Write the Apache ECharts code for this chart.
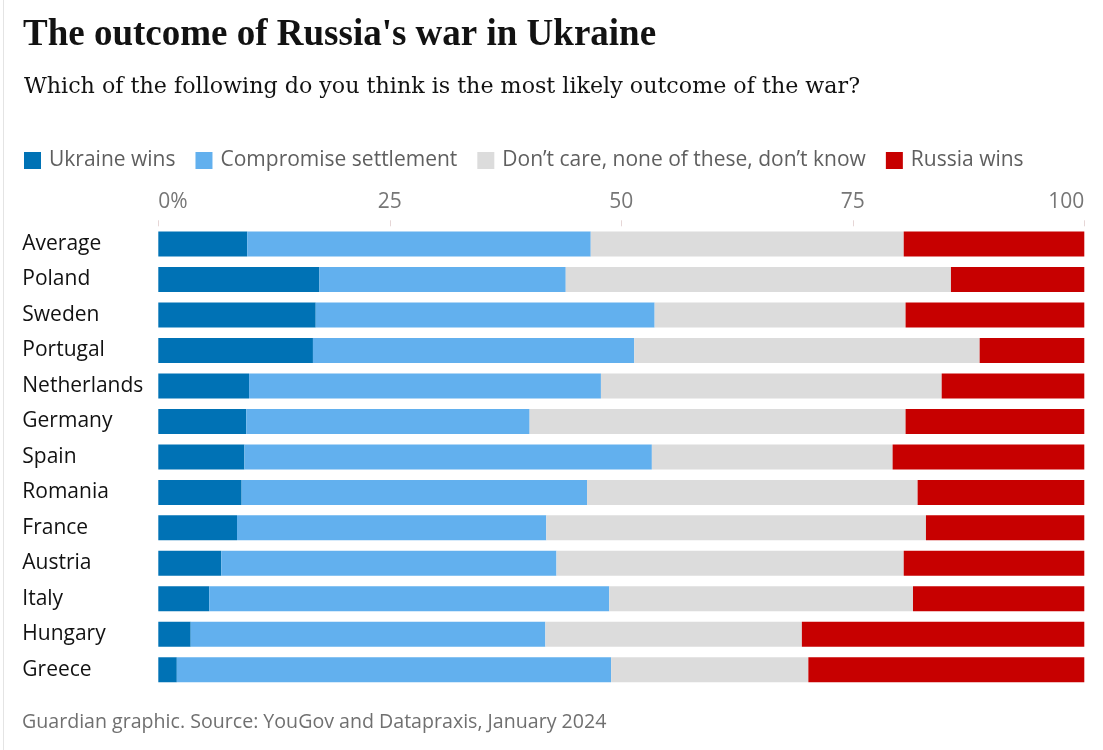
<!DOCTYPE html>
<html>
<head>
<meta charset="utf-8">
<script src="https://cdn.jsdelivr.net/npm/echarts@6/dist/echarts.min.js"></script>
<style>
  html, body { margin: 0; padding: 0; background: #fff; }
  #chart { width: 1103px; height: 750px; }
</style>
</head>
<body>
<div id="chart"></div>
<script>
const countries = ['Average', 'Poland', 'Sweden', 'Portugal', 'Netherlands', 'Germany', 'Spain', 'Romania', 'France', 'Austria', 'Italy', 'Hungary', 'Greece'];
const ukraineWins = [9.6, 17.4, 17.0, 16.7, 9.8, 9.5, 9.3, 9.0, 8.5, 6.8, 5.5, 3.5, 2.0];
const compromise = [37.1, 26.6, 36.6, 34.7, 38.0, 30.6, 44.0, 37.3, 33.4, 36.2, 43.2, 38.3, 46.9];
const dontKnow = [33.8, 41.6, 27.1, 37.3, 36.8, 40.6, 26.0, 35.7, 41.0, 37.5, 32.8, 27.7, 21.3];
const russiaWins = [19.5, 14.4, 19.3, 11.3, 15.4, 19.3, 20.7, 18.0, 17.1, 19.5, 18.5, 30.5, 29.8];
const seriesNames = ['Ukraine wins', 'Compromise settlement', 'Don\u2019t care, none of these, don\u2019t know', 'Russia wins'];
const tickValues = [0, 25, 50, 75, 100];

const colors = ['#0072b5', '#62b0ee', '#dcdcdc', '#c70000'];
const dataSets = [ukraineWins, compromise, dontKnow, russiaWins];

const chart = echarts.init(document.getElementById('chart'), null, { renderer: 'canvas' });
const sans = '"Open Sans", "Noto Sans", sans-serif';

chart.setOption({
  backgroundColor: '#ffffff',
  animation: false,
  title: [
    {
      text: 'The outcome of Russia\'s war in Ukraine',
      left: 18, top: 12,
      textStyle: { fontFamily: '"Liberation Serif", serif', fontWeight: 'bold', fontSize: 37, color: '#121212' }
    },
    {
      text: 'Which of the following do you think is the most likely outcome of the war?',
      left: 19, top: 71,
      textStyle: { fontFamily: '"DejaVu Serif", serif', fontWeight: 'normal', fontSize: 22.2, color: '#121212' }
    },
    {
      text: 'Guardian graphic. Source: YouGov and Datapraxis, January 2024',
      left: 17, top: 707,
      textStyle: { fontFamily: sans, fontWeight: 'normal', fontSize: 19.6, color: '#707070' }
    }
  ],
  legend: {
    left: 19, top: 145,
    itemWidth: 17, itemHeight: 17, itemGap: 20,
    icon: 'rect',
    textStyle: { fontFamily: sans, fontSize: 21, color: '#5f5f5f', padding: [0, 0, 0, 3] },
    data: seriesNames
  },
  grid: { left: 158.3, right: 18.7, top: 226.3, height: 461.2, containLabel: false },
  xAxis: {
    type: 'value', position: 'top', min: 0, max: 100, interval: 25,
    axisLine: { show: false },
    axisTick: { show: true, length: 6, lineStyle: { color: '#e6d6d6', width: 1 } },
    splitLine: { show: false },
    axisLabel: {
      fontFamily: sans, fontSize: 21, color: '#767676', margin: 14,
      showMinLabel: true, showMaxLabel: true,
      alignMinLabel: 'left', alignMaxLabel: 'right',
      formatter: v => (tickValues.indexOf(v) === 0 ? '0%' : String(v))
    }
  },
  yAxis: {
    type: 'category', inverse: true, data: countries,
    axisLine: { show: false }, axisTick: { show: false },
    axisLabel: { align: 'left', margin: 136, fontFamily: sans, fontSize: 21, color: '#121212' }
  },
  series: dataSets.map((d, i) => ({
    name: seriesNames[i],
    type: 'bar',
    stack: 'total',
    barWidth: 25,
    itemStyle: { color: colors[i] },
    emphasis: { disabled: true },
    data: d
  })),
  graphic: [
    { type: 'line', shape: { x1: 3.5, y1: 0, x2: 3.5, y2: 750 }, style: { stroke: '#e4e4e4', lineWidth: 1 } }
  ]
});
</script>
</body>
</html>
